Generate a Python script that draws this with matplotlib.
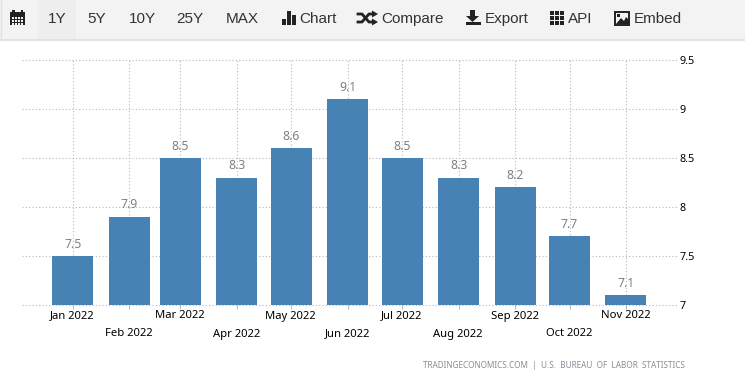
import matplotlib
matplotlib.use("Agg")
import matplotlib.pyplot as plt
import matplotlib.dates as mdates
from matplotlib.patches import Rectangle, Polygon
from datetime import datetime

# data
months = ["2022-01", "2022-02", "2022-03", "2022-04", "2022-05", "2022-06",
          "2022-07", "2022-08", "2022-09", "2022-10", "2022-11"]
inflation = [7.5, 7.9, 8.5, 8.3, 8.6, 9.1, 8.5, 8.3, 8.2, 7.7, 7.1]
tick_labels = ["Jan 2022", "Feb 2022", "Mar 2022", "Apr 2022", "May 2022", "Jun 2022",
               "Jul 2022", "Aug 2022", "Sep 2022", "Oct 2022", "Nov 2022"]
yticks = [7, 7.5, 8, 8.5, 9, 9.5]
ytick_labels = ["7", "7.5", "8", "8.5", "9", "9.5"]
buttons = ["1Y", "5Y", "10Y", "25Y", "MAX"]
button_x = [57, 97, 142, 190, 242]
tools = ["Chart", "Compare", "Export", "API", "Embed"]
tool_x = [299, 381, 485, 568, 634]

W, H = 745, 375
BAR = "#4682b4"
GRID = "#b8b8b8"
INK = "#333333"
ICON = "#222222"
TICK_FONT = "Noto Sans"

dates = [datetime.strptime(m, "%Y-%m") for m in months]
x = mdates.date2num(dates)

fig = plt.figure(figsize=(W / 100, H / 100), dpi=100, facecolor="white")

# plot area in pixels: x 22..677, y 60..305
ax = fig.add_axes([22 / W, 1 - 305 / H, (677 - 22) / W, 245 / H])
px_per_day = (626 - 73) / (x[-1] - x[0])
ax.set_xlim(x[0] - (73 - 22) / px_per_day, x[0] + (677 - 73) / px_per_day)
ax.set_ylim(7, 9.5)
for s in ax.spines.values():
    s.set_visible(False)

ax.set_axisbelow(True)
ax.grid(True, color=GRID, linestyle=(0, (1, 2)), linewidth=0.8)
for line in ax.get_xgridlines() + ax.get_ygridlines():
    line.set_clip_on(False)
ax.bar(x, [v - 7 for v in inflation], bottom=7, width=41 / px_per_day, color=BAR, zorder=2)

for xi, v in zip(x, inflation):
    ax.text(xi, v + 0.055, f"{v}", ha="center", va="bottom", fontsize=8.8,
            color="#808080", family=TICK_FONT, zorder=3)

ax.set_xticks(x)
ax.set_xticklabels([])
ax.tick_params(axis="x", length=3, width=0.72, color=GRID)
ax.yaxis.tick_right()
ax.set_yticks(yticks)
ax.set_yticklabels(ytick_labels, fontsize=7.8, color="black", family=TICK_FONT)
ax.tick_params(axis="y", length=0, pad=1.5)

# overlay in pixel coordinates for staggered labels, toolbar and source
ov = fig.add_axes([0, 0, 1, 1], facecolor="none")
ov.set_xlim(0, W)
ov.set_ylim(H, 0)
ov.axis("off")

for i, (xi, lab) in enumerate(zip(x, tick_labels)):
    px = 22 + (xi - ax.get_xlim()[0]) * px_per_day
    ov.text(px - 0.5, 316 if i % 2 == 0 else 334, lab, ha="center", va="center",
            fontsize=8.1, color="black", family=TICK_FONT)

ov.text(553.5, 365, "TRADINGECONOMICS.COM  |  U.S.  BUREAU  OF  LABOR  STATISTICS",
        ha="center", va="center", fontsize=5.9, color="#8c8c96", family=TICK_FONT)

# toolbar
ov.add_patch(Rectangle((0, 0), W, 39, fc="#f3f3f3", ec="none"))
ov.add_patch(Rectangle((38, 0), 38, 39, fc="#eeeeee", ec="none"))
ov.plot([0, W], [39.5, 39.5], color="#dddddd", lw=1.2)
ov.plot([0.5, 0.5], [0, 39], color="#e2e2e2", lw=1)
for lab, bx in zip(buttons, button_x):
    ov.text(bx, 19, lab, ha="center", va="center", fontsize=11, color=INK,
            family="Liberation Sans")
for lab, tx in zip(tools, tool_x):
    ov.text(tx, 19, lab, ha="left", va="center", fontsize=11, color=INK,
            family="Liberation Sans")

# calendar icon
ov.add_patch(Rectangle((10, 12), 15, 13, fc=ICON, ec="none"))
ov.add_patch(Rectangle((12, 10), 2.5, 3, fc=ICON, ec="none"))
ov.add_patch(Rectangle((20.5, 10), 2.5, 3, fc=ICON, ec="none"))
for gx in range(12, 24, 3):
    for gy in (17, 20, 23):
        ov.add_patch(Rectangle((gx, gy), 1.6, 1.6, fc="#f3f3f3", ec="none"))
# bar chart icon
for bx, by in zip((282, 287, 292), (19, 11, 15)):
    ov.add_patch(Rectangle((bx, by), 3.6, 25 - by, fc=ICON, ec="none"))
# shuffle icon
ov.plot([358, 362, 369, 373], [14, 14, 22, 22], color=ICON, lw=2)
ov.plot([358, 362, 369, 373], [22, 22, 14, 14], color=ICON, lw=2)
ov.add_patch(Polygon([[372, 10.5], [378, 14], [372, 17.5]], fc=ICON, ec="none"))
ov.add_patch(Polygon([[372, 18.5], [378, 22], [372, 25.5]], fc=ICON, ec="none"))
# download icon
ov.add_patch(Polygon([[470, 10], [475, 10], [475, 16], [479, 16], [472.5, 22], [466, 16], [470, 16]],
                     fc=ICON, ec="none"))
ov.add_patch(Rectangle((466, 21.5), 14.5, 3.5, fc=ICON, ec="none"))
# grid icon
for gx in (550, 555.2, 560.4):
    for gy in (11, 16, 21):
        ov.add_patch(Rectangle((gx, gy), 3.8, 3.8, fc=ICON, ec="none"))
# picture icon
ov.add_patch(Rectangle((615, 12), 14, 12.5, fc="#f3f3f3", ec=ICON, lw=1.4))
ov.add_patch(Polygon([[616, 24], [621, 18], [624, 21], [626, 17], [629, 20], [629, 24]],
                     fc=ICON, ec="none"))
ov.add_patch(Rectangle((617, 14), 2.5, 2.5, fc=ICON, ec="none"))

fig.savefig("out.png", dpi=100)
